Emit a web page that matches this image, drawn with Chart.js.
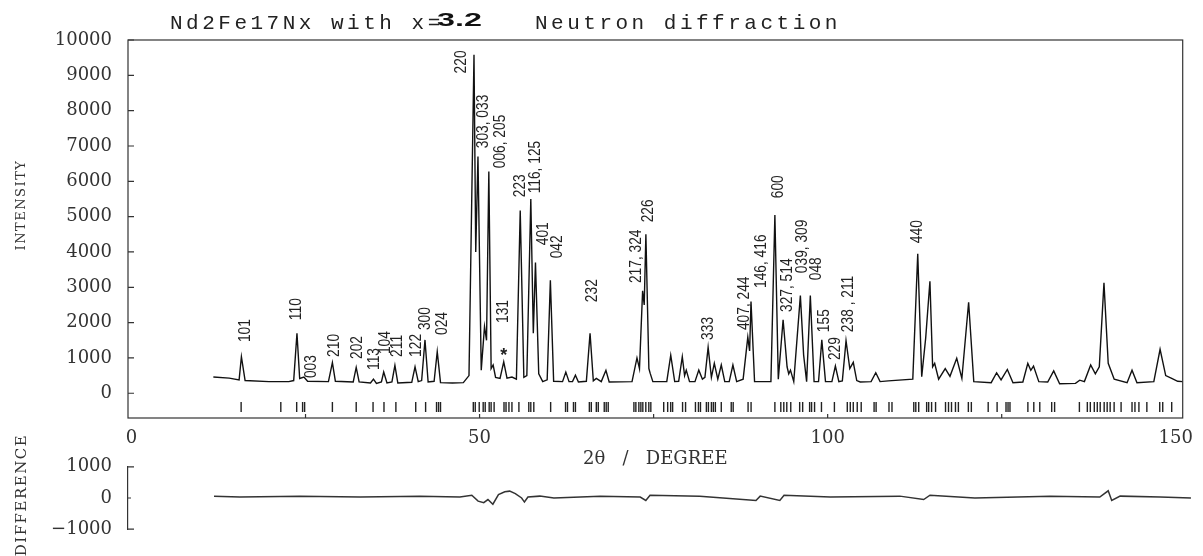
<!DOCTYPE html>
<html>
<head>
<meta charset="utf-8">
<script src="https://cdn.jsdelivr.net/npm/chart.js@4.4.0/dist/chart.umd.min.js"></script>
<style>
  html, body { margin: 0; padding: 0; background: #fff; }
  #wrap { position: relative; width: 1203px; height: 556px; overflow: hidden; }
  #main { position: absolute; left: 0; top: 0; }
  #diff { position: absolute; left: 0; top: 440px; }
  .ttl { position: absolute; top: 13px; font: 21px "Liberation Mono", monospace; letter-spacing: 3.5px; color: #222; white-space: nowrap; line-height: 21px; }
  .big { position: absolute; top: 10px; left: 437px; font: bold 19px "Liberation Sans", Arial, sans-serif; color: #111; transform: scaleX(1.7); transform-origin: left center; white-space: nowrap; line-height: 19px; }
  .vlab { position: absolute; font-family: "DejaVu Serif", serif; color: #333; white-space: nowrap; transform: translate(-50%, -50%) rotate(-90deg); }
</style>
</head>
<body>
<div id="wrap">
  <canvas id="main" width="1203" height="475"></canvas>
  <canvas id="diff" width="1203" height="116"></canvas>
  <div class="ttl" style="left:170px">Nd2Fe17Nx with x=</div>
  <div class="big">3.2</div>
  <div class="ttl" style="left:535px">Neutron diffraction</div>
  <div class="vlab" style="left:20px; top:205px; font-size:13px; letter-spacing:1.5px">INTENSITY</div>
  <div class="vlab" style="left:21px; top:495px; font-size:15px; letter-spacing:1.5px">DIFFERENCE</div>
</div>
<script>
// observed profile (2theta in degrees, counts)
const profileTheta = [
  11.76, 14.04, 15.46, 15.79, 16.32, 19.74, 22.59, 23.30, 23.77, 24.16, 24.77, 25.30,
  28.29, 28.86, 29.29, 31.85, 32.28, 32.70, 34.33, 34.76, 35.19, 35.90, 36.23, 36.70,
  37.41, 37.84, 38.26, 40.26, 40.73, 41.19, 41.68, 42.16, 42.61, 43.47, 43.92, 44.39,
  46.10, 47.67, 48.48, 49.20, 49.45, 49.77, 50.24, 50.71, 51.00, 51.33, 51.66, 51.95,
  52.30, 52.94, 53.47, 53.94, 54.65, 55.29, 55.84, 56.36, 56.79, 57.36, 57.72, 58.03,
  58.50, 59.07, 59.71, 60.17, 60.64, 61.92, 62.39, 62.85, 63.35, 63.77, 64.20, 65.34,
  65.87, 66.34, 66.77, 67.48, 68.15, 68.62, 71.90, 72.61, 72.97, 73.42, 73.65, 73.89,
  74.32, 74.50, 74.89, 76.89, 77.46, 78.03, 78.60, 79.12, 79.45, 79.69, 80.16, 80.94,
  81.49, 82.01, 82.37, 82.83, 83.30, 83.72, 84.22, 84.72, 85.22, 85.86, 86.39, 86.93,
  87.86, 88.53, 88.79, 88.99, 89.50, 91.85, 92.42, 92.91, 93.60, 94.17, 94.41, 94.66,
  95.13, 96.08, 96.55, 96.98, 97.51, 98.05, 98.69, 99.16, 99.69, 100.61, 101.11, 101.61,
  102.11, 102.64, 103.18, 103.68, 104.18, 104.68, 106.24, 106.91, 107.53, 108.71, 112.23, 112.94,
  113.51, 114.08, 114.69, 115.08, 115.37, 115.94, 116.89, 117.57, 118.54, 119.28, 120.25, 120.99,
  123.49, 124.27, 124.91, 125.81, 126.62, 128.04, 128.75, 129.18, 129.57, 130.33, 131.61, 132.47,
  133.32, 135.60, 136.21, 136.88, 137.78, 138.45, 139.02, 139.69, 140.30, 141.16, 143.01, 143.72,
  144.43, 146.85, 147.75, 148.56, 149.42, 150.28, 150.99
];
const profileCounts = [
  460, 430, 380, 1035, 360, 330, 330, 360, 1700, 420, 460, 340,
  330, 870, 340, 320, 730, 320, 290, 400, 280, 320, 600, 290,
  320, 790, 290, 310, 750, 330, 360, 1510, 320, 340, 1180, 300,
  290, 300, 500, 9580, 4000, 6700, 650, 1890, 1500, 6280, 700, 800,
  450, 420, 890, 430, 460, 400, 5170, 450, 500, 5500, 1700, 3700,
  550, 330, 380, 3200, 340, 330, 600, 330, 330, 510, 320, 340,
  1700, 350, 420, 330, 650, 320, 330, 1000, 700, 2900, 2500, 4500,
  700, 570, 330, 330, 1080, 330, 340, 1035, 500, 655, 330, 330,
  655, 400, 450, 1300, 450, 845, 400, 800, 330, 330, 800, 330,
  400, 1590, 1200, 2600, 330, 330, 5045, 400, 2080, 750, 550, 655,
  330, 2765, 1080, 330, 2765, 330, 330, 1510, 330, 330, 770, 330,
  350, 1490, 700, 875, 360, 320, 330, 580, 330, 350, 400, 3950,
  470, 1560, 3170, 750, 845, 400, 700, 480, 990, 420, 2575, 330,
  300, 580, 380, 675, 300, 320, 845, 650, 770, 330, 320, 635,
  270, 280, 370, 330, 800, 550, 750, 3125, 850, 400, 300, 655,
  300, 330, 1245, 500, 420, 340, 330
];

// Bragg reflection positions (tick row under the pattern)
const reflections = [
  15.75, 21.45, 23.73, 24.58, 24.87, 28.86, 32.28, 34.70, 36.27, 37.98, 40.83, 42.25,
  43.82, 44.11, 44.39, 49.10, 49.38, 49.95, 50.52, 50.81, 51.38, 51.66, 52.09, 53.51,
  53.80, 54.22, 54.65, 55.65, 57.07, 57.36, 57.79, 60.21, 62.35, 62.63, 63.49, 63.77,
  65.77, 66.05, 66.77, 67.05, 67.91, 68.19, 68.48, 72.17, 72.45, 72.88, 73.17, 73.45,
  73.88, 74.31, 74.60, 76.45, 77.02, 77.45, 77.73, 79.16, 79.59, 81.01, 81.44, 81.73,
  82.58, 82.87, 83.30, 83.58, 83.87, 84.72, 86.15, 86.43, 88.57, 89.00, 92.42, 93.27,
  93.70, 94.13, 94.70, 95.98, 96.41, 97.41, 97.69, 98.12, 99.11, 100.97, 102.82, 103.25,
  103.68, 104.25, 104.82, 106.67, 106.96, 108.81, 109.24, 112.37, 112.66, 113.08, 114.22, 114.51,
  114.93, 115.50, 116.93, 117.36, 117.79, 118.36, 118.78, 120.21, 120.64, 123.06, 124.34, 125.62,
  125.91, 126.19, 128.76, 129.61, 130.47, 132.18, 132.60, 136.16, 137.30, 137.73, 138.30, 138.73,
  139.15, 139.72, 140.15, 140.58, 141.15, 142.15, 143.72, 144.14, 144.71, 145.85, 147.70, 148.13,
  149.42
];

// peak indexing labels, anchored at the foot of the rotated text
const peakNames = ['101', '110', '003', '210', '202', '113', '104', '211', '122', '300', '024',
  '220', '303, 033', '006, 205', '*', '131', '223', '116, 125', '401', '042', '232',
  '217, 324', '226', '333', '407, 244', '146, 416', '600', '327, 514', '039, 309', '048',
  '155', '229', '238 , 211', '440'];
const labelTheta = [16.32, 23.73, 25.87, 29.14, 32.42, 34.97, 36.48, 38.22, 40.93, 42.21, 44.72,
  47.39, 50.52, 53.09, 53.47, 53.51, 55.94, 58.07, 59.21, 61.21, 66.24,
  72.61, 74.25, 82.91, 88.00, 90.57, 92.89, 94.20, 96.38, 98.48,
  99.54, 101.21, 102.96, 112.97];
const labelCounts = [1450, 2070, 430, 1030, 970, 660, 1110, 1030, 1030, 1790, 1650,
  9055, 6935, 6370, 1140, 1990, 5550, 5660, 4190, 3820, 2580,
  3120, 4840, 1510, 1790, 2980, 5520, 2300, 3400, 3200,
  1730, 940, 1730, 4250];

// observed - calculated
const diffTheta = [11.76, 15.46, 24.0, 32.6, 41.1, 46.8, 48.5, 49.4, 50.2, 50.8, 51.5, 52.3, 53.2, 53.9,
  54.7, 55.6, 56.0, 56.5, 58.2, 60.2, 66.8, 72.5, 73.3, 73.9, 81.0, 89.0, 89.6, 92.4, 93.0, 99.6,
  109.5, 112.9, 113.8, 120.2, 130.9, 138.0, 139.2, 139.7, 140.9, 146.6, 150.99];
const diffCounts = [60, 30, 60, 30, 60, 30, 90, -100, -150, -50, -200, 110, 200, 220,
  140, 0, -130, 30, 60, 0, 60, 30, -80, 90, 60, -80, 60, -80, 90, 30,
  60, -50, 90, 0, 60, 30, 230, -80, 60, 30, 0];

const thetaTicks = [0, 50, 100, 150];
const thetaMinorTicks = [25, 50, 75, 100, 125];
const intensityTicks = [0, 1000, 2000, 3000, 4000, 5000, 6000, 7000, 8000, 9000, 10000];
const diffTicks = [-1000, 0, 1000];

const tickRowLevel = -390;
const serif = '"DejaVu Serif", serif';

// frame box + small inward ticks
const framePlugin = {
  id: 'frame',
  afterDraw(chart, args, opts) {
    const { ctx, chartArea: a, scales } = chart;
    ctx.save();
    ctx.strokeStyle = '#333';
    ctx.lineWidth = 1.2;
    if (opts.box) {
      ctx.strokeRect(a.left, a.top, a.right - a.left, a.bottom - a.top);
    }
    ctx.beginPath();
    (opts.yTicks || []).forEach(v => {
      const py = scales.y.getPixelForValue(v);
      const len = v === 0 && opts.short0 ? 3 : 6;
      ctx.moveTo(a.left, py);
      ctx.lineTo(a.left + len, py);
    });
    (opts.xTicks || []).forEach(v => {
      const px = scales.x.getPixelForValue(v);
      ctx.moveTo(px, a.bottom);
      ctx.lineTo(px, a.bottom - 4);
    });
    ctx.stroke();
    ctx.restore();
  }
};

// rotated hkl labels
const peakLabelPlugin = {
  id: 'peakLabels',
  afterDatasetsDraw(chart) {
    const { ctx, scales: { x, y } } = chart;
    ctx.save();
    ctx.fillStyle = '#222';
    for (let i = 0; i < peakNames.length; i++) {
      const px = x.getPixelForValue(labelTheta[i]);
      const py = y.getPixelForValue(labelCounts[i]);
      ctx.save();
      ctx.translate(px, py);
      if (peakNames[i] === '*') {
        ctx.font = 'bold 18px "Liberation Sans", sans-serif';
        ctx.textAlign = 'center';
        ctx.textBaseline = 'middle';
        ctx.fillText('*', 0, 3);
      } else {
        ctx.rotate(-Math.PI / 2);
        ctx.scale(0.86, 1);
        ctx.font = '16px "Liberation Sans", sans-serif';
        ctx.textAlign = 'left';
        ctx.textBaseline = 'middle';
        ctx.fillText(peakNames[i], 0, 0);
      }
      ctx.restore();
    }
    ctx.restore();
  }
};

const profilePoints = profileTheta.map((t, i) => ({ x: t, y: profileCounts[i] }));
const tickPoints = reflections.map(t => ({ x: t, y: tickRowLevel }));
const diffPoints = diffTheta.map((t, i) => ({ x: t, y: diffCounts[i] }));

new Chart(document.getElementById('main'), {
  type: 'scatter',
  data: {
    datasets: [{
      label: 'observed',
      data: profilePoints,
      showLine: true,
      borderColor: '#111',
      borderWidth: 1.4,
      pointRadius: 0,
      tension: 0
    }, {
      label: 'reflections',
      data: tickPoints,
      showLine: false,
      pointStyle: 'line',
      rotation: 90,
      pointRadius: 5,
      borderColor: '#222',
      borderWidth: 1.4
    }]
  },
  options: {
    responsive: false,
    animation: false,
    layout: { autoPadding: false, padding: { left: 0, right: 12, top: 40, bottom: 0 } },
    plugins: {
      legend: { display: false },
      tooltip: { enabled: false },
      frame: { box: true, yTicks: intensityTicks, xTicks: thetaMinorTicks }
    },
    scales: {
      x: {
        type: 'linear',
        min: -0.5,
        max: 151,
        afterBuildTicks: s => { s.ticks = thetaTicks.map(v => ({ value: v })); },
        afterFit: s => { s.height = 57; },
        grid: { display: false, drawTicks: false },
        border: { display: false },
        ticks: { padding: 10, color: '#333', font: { family: serif, size: 18 }, callback: v => String(v) },
        title: { display: true, text: '2θ   /   DEGREE', color: '#333', font: { family: serif, size: 18 }, padding: { top: 0, bottom: 5 } }
      },
      y: {
        min: -700,
        max: 10000,
        afterBuildTicks: s => { s.ticks = intensityTicks.map(v => ({ value: v })); },
        afterFit: s => { s.width = 128; },
        grid: { display: false, drawTicks: false },
        border: { display: false },
        ticks: { padding: 16, color: '#333', font: { family: serif, size: 18 }, callback: v => String(v) }
      }
    }
  },
  plugins: [framePlugin, peakLabelPlugin]
});

new Chart(document.getElementById('diff'), {
  type: 'scatter',
  data: {
    datasets: [{
      label: 'difference',
      data: diffPoints,
      showLine: true,
      borderColor: '#333',
      borderWidth: 1.5,
      pointRadius: 0,
      tension: 0
    }]
  },
  options: {
    responsive: false,
    animation: false,
    layout: { autoPadding: false, padding: { left: 0, right: 12, top: 17, bottom: 24 } },
    plugins: {
      legend: { display: false },
      tooltip: { enabled: false },
      frame: { box: false, yTicks: diffTicks, short0: true }
    },
    scales: {
      x: { type: 'linear', min: -0.5, max: 151, display: false },
      y: {
        min: -1000,
        max: 1000,
        afterBuildTicks: s => { s.ticks = diffTicks.map(v => ({ value: v })); },
        afterFit: s => { s.width = 128; },
        grid: { display: false, drawTicks: false },
        border: { display: true, color: '#333', width: 1.2 },
        ticks: { padding: 16, color: '#333', font: { family: serif, size: 18 }, callback: v => (v < 0 ? '\u2212' + (-v) : String(v)) }
      }
    }
  },
  plugins: [framePlugin]
});
</script>
</body>
</html>
